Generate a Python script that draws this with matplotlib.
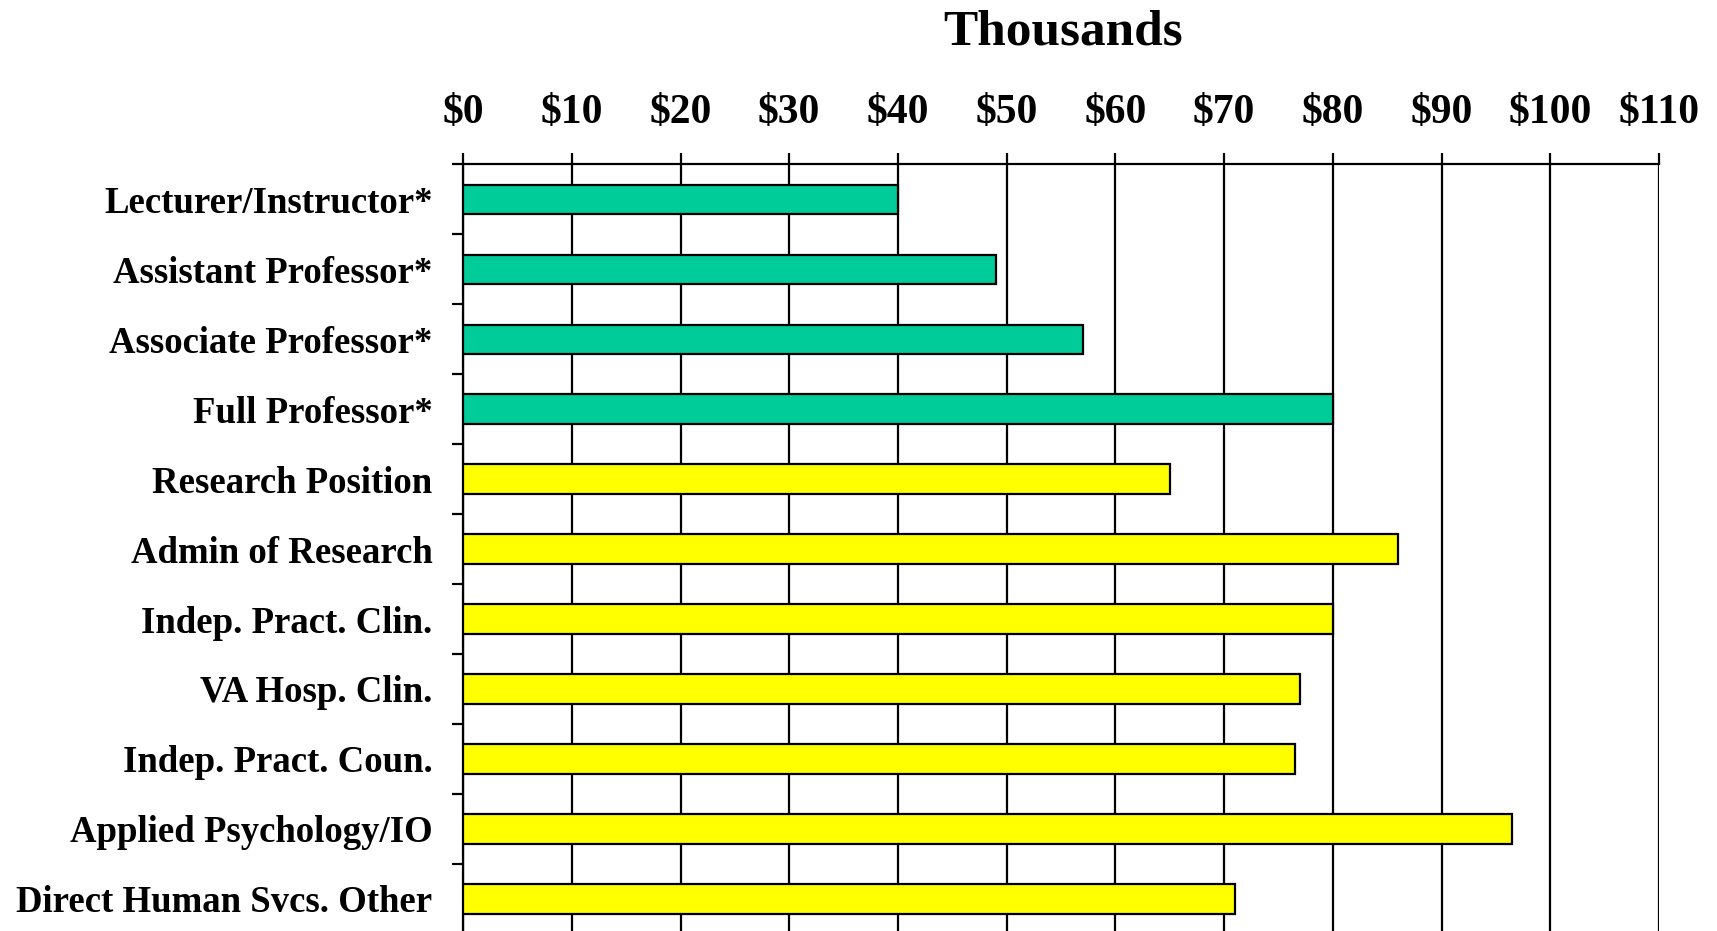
import numpy as np
import matplotlib
matplotlib.use("Agg")
import matplotlib.pyplot as plt
from matplotlib.ticker import FixedLocator

# salary medians, thousands of dollars
categories = ["Lecturer/Instructor*", "Assistant Professor*", "Associate Professor*",
              "Full Professor*", "Research Position", "Admin of Research",
              "Indep. Pract. Clin.", "VA Hosp. Clin.", "Indep. Pract. Coun.",
              "Applied Psychology/IO", "Direct Human Svcs. Other"]
salaries = [40, 49, 57, 80, 65, 86, 80, 77, 76.5, 96.5, 71]
academic = [True, True, True, True, False, False, False, False, False, False, False]
x_ticks = [0, 10, 20, 30, 40, 50, 60, 70, 80, 90, 100, 110]
x_labels = ["$" + str(v) for v in x_ticks]

plt.rcParams['font.family'] = ['Liberation Serif', 'DejaVu Serif']
plt.rcParams['font.weight'] = 'bold'

fig = plt.figure(figsize=(17.17, 9.31), dpi=100)
ax = fig.add_axes([0.2697, -0.003, 0.9662 - 0.2697, 0.8265])

colors = ["#00CC99" if a else "#FFFF00" for a in academic]
y = np.arange(len(categories))
ax.barh(y, salaries, height=0.42, color=colors, edgecolor="black", linewidth=1.6, zorder=3)

ax.set_xlim(0, 110)
ax.set_ylim(len(categories) - 0.5, -0.5)

ax.xaxis.tick_top()
ax.set_xticks(x_ticks)
ax.set_xticklabels(x_labels, fontsize=30, fontweight='bold')
ax.tick_params(axis='x', direction='out', length=8, width=1.6, pad=15)
ax.grid(axis='x', color='black', linewidth=1.6, zorder=1)
ax.set_axisbelow(True)

ax.set_yticks(y)
ax.set_yticklabels(categories, fontsize=26.5, fontweight='bold')
ax.tick_params(axis='y', which='major', length=0, pad=22)
ax.yaxis.set_minor_locator(FixedLocator(np.arange(-0.5, len(categories) + 0.5, 1)))
ax.tick_params(axis='y', which='minor', direction='out', length=8, width=1.6)

for s in ['right', 'bottom']:
    ax.spines[s].set_visible(False)
for s in ['top', 'left']:
    ax.spines[s].set_linewidth(1.6)

fig.text(0.619, 0.965, "Thousands", ha='center', va='center', fontsize=37, fontweight='bold')

plt.savefig("out.png", dpi=100)
